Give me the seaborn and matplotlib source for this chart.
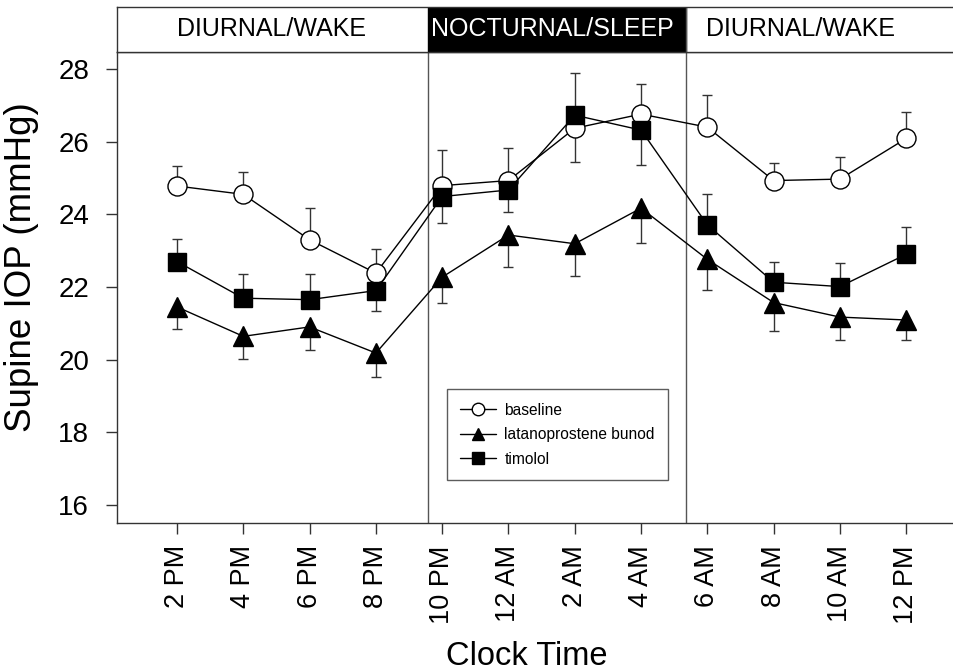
import numpy as np
import pandas as pd
import matplotlib
matplotlib.use("Agg")
import matplotlib.pyplot as plt
import seaborn as sns
from matplotlib.lines import Line2D

# Clock times on the x axis
times = ["2 PM", "4 PM", "6 PM", "8 PM", "10 PM", "12 AM",
         "2 AM", "4 AM", "6 AM", "8 AM", "10 AM", "12 PM"]

# Mean supine IOP (mmHg) per group
baseline = [24.78, 24.55, 23.30, 22.38, 24.79, 24.93, 26.37, 26.76, 26.40, 24.93, 24.97, 26.09]
latanoprostene = [21.45, 20.64, 20.90, 20.18, 22.27, 23.43, 23.19, 24.17, 22.76, 21.57, 21.17, 21.09]
timolol = [22.70, 21.69, 21.65, 21.90, 24.49, 24.67, 26.73, 26.32, 23.71, 22.13, 22.01, 22.90]

# Error bar lengths (SEM)
baseline_err = [0.55, 0.62, 0.87, 0.67, 0.98, 0.90, 0.92, 0.83, 0.88, 0.48, 0.62, 0.72]
latanoprostene_err = [0.61, 0.62, 0.63, 0.66, 0.72, 0.87, 0.89, 0.95, 0.84, 0.78, 0.62, 0.54]
timolol_err = [0.62, 0.66, 0.71, 0.56, 0.73, 0.61, 1.15, 0.96, 0.84, 0.57, 0.64, 0.76]

# Which side each error bar is drawn on (only one side shown)
baseline_side = ["up"] * 6 + ["down"] + ["up"] * 5
latanoprostene_side = ["down"] * 12
timolol_side = ["up", "up", "up", "down", "down", "down", "up", "down", "up", "up", "up", "up"]

# Sleep period boundaries (~9:30 PM and ~5:30 AM) in tick units
sleep_start, sleep_end = 3.78, 7.68

groups = {
    "baseline": (baseline, baseline_err, baseline_side),
    "latanoprostene bunod": (latanoprostene, latanoprostene_err, latanoprostene_side),
    "timolol": (timolol, timolol_err, timolol_side),
}

rows = []
for name, (vals, errs, sides) in groups.items():
    for i, (v, e, s) in enumerate(zip(vals, errs, sides)):
        rows.append({"group": name, "pos": i, "time": times[i], "iop": v, "err": e, "side": s})
df = pd.DataFrame(rows)

sns.set_style("ticks", {"text.color": "black", "axes.labelcolor": "black",
                        "xtick.color": "black", "ytick.color": "black"})
plt.rcParams["font.family"] = ["Liberation Sans", "DejaVu Sans"]

fig = plt.figure(figsize=(9.54, 6.71), dpi=100)
W, H = 954, 671
ax = fig.add_axes([117 / W, (H - 523) / H, (W - 117) / W, 471 / H])
hdr = fig.add_axes([117 / W, (H - 52) / H, (W - 117) / W, 45 / H], sharex=ax)

styles = {
    "baseline": dict(marker="o", markersize=13.7, markerfacecolor="white"),
    "latanoprostene bunod": dict(marker="^", markersize=14, markerfacecolor="black"),
    "timolol": dict(marker="s", markersize=12.7, markerfacecolor="black"),
}

for name in groups:
    sub = df[df["group"] == name]
    lower = np.where(sub["side"] == "down", sub["err"], 0)
    upper = np.where(sub["side"] == "up", sub["err"], 0)
    ax.errorbar(sub["pos"], sub["iop"], yerr=[lower, upper], fmt="none",
                ecolor="#333333", elinewidth=1, capsize=3.5, capthick=1, zorder=2)
    sns.lineplot(data=sub, x="pos", y="iop", color="black", linewidth=1,
                 markeredgecolor="black", markeredgewidth=1, errorbar=None,
                 ax=ax, zorder=3, **styles[name])

# Day/night boundaries
for xb in (sleep_start, sleep_end):
    ax.axvline(xb, color="#555555", linewidth=1, zorder=1)

ax.set_xlim(-0.905, 11.72)
ax.set_ylim(15.5, 28.47)
ax.set_xticks(range(len(times)))
ax.set_xticklabels(times, rotation=90, fontsize=19.5)
ax.set_yticks(np.arange(16, 29, 2))
ax.tick_params(axis="y", labelsize=20, length=8, width=1, pad=12, color="#333333")
ax.tick_params(axis="x", length=8, width=1, pad=8, color="#333333")
ax.set_xlabel("Clock Time", fontsize=23.5, va="baseline")
ax.set_ylabel("Supine IOP (mmHg)", fontsize=26.5)
ax.xaxis.set_label_coords(0.49, -0.302)
ax.yaxis.set_label_coords(-0.093, 0.5425)
for side in ("left", "bottom", "top"):
    ax.spines[side].set_color("#333333")
    ax.spines[side].set_linewidth(1)
ax.spines["right"].set_visible(False)

# Header band with wake / sleep labels
hdr.set_ylim(0, 1)
hdr.axvspan(sleep_start, sleep_end, color="black")
hdr.axvline(sleep_end, color="#555555", linewidth=1)
hdr.text(1.43, 0.5, "DIURNAL/WAKE", ha="center", va="center", fontsize=18)
hdr.text(5.66, 0.5, "NOCTURNAL/SLEEP", ha="center", va="center", fontsize=18, color="white")
hdr.text(9.41, 0.5, "DIURNAL/WAKE", ha="center", va="center", fontsize=18)
hdr.tick_params(left=False, bottom=False, labelleft=False, labelbottom=False)
hdr.spines["right"].set_visible(False)
for side in ("left", "bottom", "top"):
    hdr.spines[side].set_color("#333333")
    hdr.spines[side].set_linewidth(1)

handles = [
    Line2D([], [], color="black", lw=1, marker="o", markersize=9, markerfacecolor="white", markeredgecolor="black"),
    Line2D([], [], color="black", lw=1, marker="^", markersize=9, markerfacecolor="black"),
    Line2D([], [], color="black", lw=1, marker="s", markersize=8.5, markerfacecolor="black"),
]
leg = ax.legend(handles, list(groups.keys()), loc="lower left",
                bbox_to_anchor=(0.394, 0.091), borderaxespad=0,
                fontsize=11.2, frameon=True, fancybox=False, handlelength=2.3,
                labelspacing=0.62, borderpad=0.85, handletextpad=0.55)
leg.get_frame().set_edgecolor("#333333")
leg.get_frame().set_linewidth(1)

plt.savefig("out.png", dpi=100)
